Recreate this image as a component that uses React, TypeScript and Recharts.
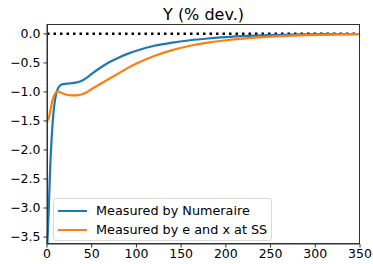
import { LineChart, Line, XAxis, YAxis, ReferenceLine } from "recharts";

const periods = [0, 1, 2, 3, 4, 5, 6, 7, 8, 10, 12, 14, 17, 20, 25, 30, 35, 40, 45, 50, 60, 70, 80, 90, 100, 120, 140, 160, 180, 200, 225, 250, 275, 300, 325, 350];

const numeraire = [-3.75, -3.4, -3.0, -2.55, -2.15, -1.85, -1.6, -1.4, -1.25, -1.05, -0.95, -0.9, -0.87, -0.86, -0.855, -0.845, -0.83, -0.8, -0.75, -0.69, -0.58, -0.485, -0.41, -0.345, -0.29, -0.205, -0.15, -0.11, -0.08, -0.056, -0.036, -0.022, -0.013, -0.007, -0.004, -0.002];

const eAndX = [-1.5, -1.48, -1.45, -1.38, -1.3, -1.22, -1.15, -1.1, -1.06, -1.01, -0.99, -1.0, -1.02, -1.04, -1.055, -1.06, -1.055, -1.035, -1.0, -0.95, -0.86, -0.77, -0.68, -0.59, -0.51, -0.38, -0.28, -0.205, -0.15, -0.11, -0.072, -0.046, -0.029, -0.018, -0.01, -0.006];

const xTicks = [0, 50, 100, 150, 200, 250, 300, 350];
const yTicks = [0, -0.5, -1, -1.5, -2, -2.5, -3, -3.5];

const legendItems = [
  { label: "Measured by Numeraire", color: "#1f77b4" },
  { label: "Measured by e and x at SS", color: "#ff7f0e" },
];

const data = periods.map((t, i) => ({ t, a: numeraire[i], b: eAndX[i] }));

const font = "'DejaVu Sans', sans-serif";
const fmt = (v: number) => v.toFixed(1).replace("-", "\u2212");

export default function App() {
  return (
    <div style={{ position: "absolute", left: 0, top: 0, width: 373, height: 264, background: "#fff", fontFamily: font }}>
      <div style={{ position: "absolute", left: 47, width: 313, top: 7, lineHeight: "16px", textAlign: "center", fontSize: 16, color: "#000" }}>
        Y (% dev.)
      </div>
      <LineChart width={373} height={264} data={data} margin={{ top: 24, right: 13, bottom: 0, left: 0 }}>
        <XAxis
          dataKey="t"
          type="number"
          domain={[0, 350]}
          ticks={xTicks}
          tick={{ fontSize: 12.5, fill: "#000", fontFamily: font }}
          tickSize={3.5}
          tickMargin={2}
          stroke="#333"
          height={20}
          interval={0}
        />
        <YAxis
          type="number"
          domain={[-3.62, 0.17]}
          allowDataOverflow
          ticks={yTicks}
          tickFormatter={fmt}
          tick={{ fontSize: 12.5, fill: "#000", fontFamily: font }}
          tickSize={3.5}
          tickMargin={3}
          stroke="#333"
          width={47}
          interval={0}
        />
        <ReferenceLine y={0} stroke="#000" strokeWidth={2.5} strokeDasharray="2.5 4" />
        <Line dataKey="a" type="monotone" stroke="#1f77b4" strokeWidth={2.2} dot={false} isAnimationActive={false} />
        <Line dataKey="b" type="monotone" stroke="#ff7f0e" strokeWidth={2.2} dot={false} isAnimationActive={false} />
      </LineChart>
      <div
        style={{
          position: "absolute",
          left: 47,
          top: 24,
          width: 313,
          height: 220,
          border: "1px solid #333",
          boxSizing: "border-box",
          pointerEvents: "none",
        }}
      />
      <div
        style={{
          position: "absolute",
          left: 53,
          top: 198,
          width: 219,
          height: 43,
          border: "1px solid #d9d9d9",
          borderRadius: 3,
          background: "rgba(255,255,255,0.85)",
          boxSizing: "border-box",
          padding: "2px 0 0 4px",
        }}
      >
        {legendItems.map((it) => (
          <div key={it.label} style={{ display: "flex", alignItems: "center", height: 19, fontSize: 12.8, color: "#000", whiteSpace: "nowrap" }}>
            <span style={{ display: "inline-block", width: 29, height: 2, background: it.color, marginRight: 9 }} />
            {it.label}
          </div>
        ))}
      </div>
    </div>
  );
}
